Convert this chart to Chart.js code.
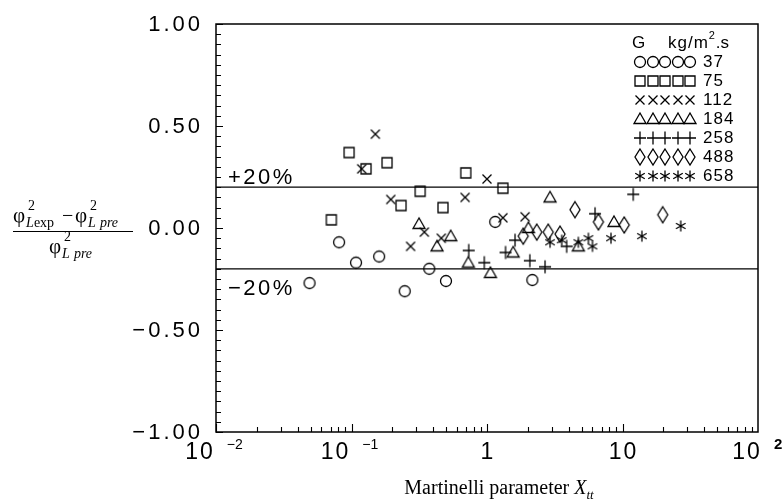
<!DOCTYPE html>
<html>
<head>
<meta charset="utf-8">
<script src="https://cdn.jsdelivr.net/npm/chart.js@4"></script>
<style>
  html, body { margin: 0; padding: 0; background: #fff; }
  canvas { display: block; }
</style>
</head>
<body>
<canvas id="chart" width="784" height="502"></canvas>
<script>
// mass flux G (kg/m2.s) and the measured points for each one
const massFlux = ["37", "75", "112", "184", "258", "488", "658"];

const g37X = [0.049, 0.081, 0.108, 0.160, 0.247, 0.375, 0.498, 1.15, 2.16];
const g37Y = [-0.27, -0.07, -0.17, -0.14, -0.31, -0.20, -0.26, 0.03, -0.255];

const g75X = [0.071, 0.096, 0.128, 0.183, 0.232, 0.321, 0.473, 0.697, 1.31];
const g75Y = [0.04, 0.37, 0.29, 0.32, 0.11, 0.18, 0.10, 0.27, 0.195];

const g112X = [0.119, 0.150, 0.195, 0.273, 0.345, 0.46, 0.689, 1.0, 1.31, 1.91];
const g112Y = [0.29, 0.46, 0.14, -0.09, -0.02, -0.05, 0.15, 0.24, 0.05, 0.055];

const g184X = [0.315, 0.428, 0.54, 0.728, 1.06, 1.56, 2.02, 2.92, 4.72, 8.65];
const g184Y = [0.02, -0.09, -0.04, -0.17, -0.22, -0.12, 0.0, 0.15, -0.09, 0.03];

const g258X = [0.733, 0.955, 1.37, 1.61, 2.07, 2.68, 3.87, 6.27, 12.0];
const g258Y = [-0.11, -0.17, -0.12, -0.06, -0.16, -0.19, -0.09, 0.07, 0.165];

const g488X = [1.85, 2.33, 2.83, 3.46, 4.46, 6.64, 10.3, 19.8];
const g488Y = [-0.04, -0.02, -0.02, -0.03, 0.09, 0.03, 0.015, 0.065];

const g658X = [2.92, 3.56, 4.72, 5.6, 6.0, 8.22, 13.9, 26.9];
const g658Y = [-0.07, -0.06, -0.07, -0.05, -0.09, -0.05, -0.04, 0.01];

const markerKinds = ["circle", "square", "x", "triangle", "plus", "diamond", "star"];

// +/-20% band
const bandLimits = [0.2, -0.2];
const bandLabels = ["+20%", "\u221220%"];

const yTicks = [-1, -0.5, 0, 0.5, 1];
const yTickLabels = ["\u22121.00", "\u22120.50", "0.00", "0.50", "1.00"];
const xTicks = [0.01, 0.1, 1, 10, 100];
const xTickBase = ["10", "10", "1", "10", "10"];
const xTickExp = ["\u22122", "\u22121", "", "", "2"];

const SANS = '"Liberation Sans", Arial, sans-serif';
const SERIF = '"Liberation Serif", "Times New Roman", serif';

function zip(xs, ys) {
  return xs.map((x, i) => ({ x: x, y: ys[i] }));
}

// small stroked symbols used as point styles
function marker(kind) {
  const c = document.createElement("canvas");
  c.width = 22;
  c.height = 22;
  const g = c.getContext("2d");
  g.strokeStyle = "#000";
  g.lineWidth = 1.3;
  g.translate(11, 11);
  g.beginPath();
  switch (kind) {
    case "circle":
      g.arc(0, 0, 5.5, 0, Math.PI * 2);
      break;
    case "square":
      g.rect(-5, -5, 10, 10);
      break;
    case "x":
      g.moveTo(-4.5, -4.5); g.lineTo(4.5, 4.5);
      g.moveTo(4.5, -4.5); g.lineTo(-4.5, 4.5);
      break;
    case "triangle":
      g.moveTo(0, -6); g.lineTo(6, 4.5); g.lineTo(-6, 4.5); g.closePath();
      break;
    case "plus":
      g.moveTo(-6, 0); g.lineTo(6, 0);
      g.moveTo(0, -6.5); g.lineTo(0, 6.5);
      break;
    case "diamond":
      g.moveTo(0, -8); g.lineTo(5, 0); g.lineTo(0, 8); g.lineTo(-5, 0); g.closePath();
      break;
    case "star":
      [90, 30, -30].forEach((deg) => {
        const a = deg * Math.PI / 180;
        g.moveTo(-5.5 * Math.cos(a), -5.5 * Math.sin(a));
        g.lineTo(5.5 * Math.cos(a), 5.5 * Math.sin(a));
      });
      break;
  }
  g.stroke();
  return c;
}

const markerImgs = markerKinds.map(marker);

const seriesData = [
  zip(g37X, g37Y), zip(g75X, g75Y), zip(g112X, g112Y), zip(g184X, g184Y),
  zip(g258X, g258Y), zip(g488X, g488Y), zip(g658X, g658Y)
];

const datasets = seriesData.map((pts, i) => ({
  label: "G = " + massFlux[i],
  data: pts,
  pointStyle: markerImgs[i],
  pointRadius: 6,
  showLine: false
}));

bandLimits.forEach((v) => {
  datasets.push({
    label: "band " + v,
    data: [{ x: 0.01, y: v }, { x: 100, y: v }],
    showLine: true,
    borderColor: "#000",
    borderWidth: 1.2,
    pointRadius: 0
  });
});

function spacedText(ctx, text, x, y, align, spacing) {
  ctx.letterSpacing = spacing + "px";
  const w = ctx.measureText(text).width - spacing;
  let sx = x;
  if (align === "right") sx = x - w;
  else if (align === "center") sx = x - w / 2;
  ctx.textAlign = "left";
  ctx.fillText(text, sx, y);
  ctx.letterSpacing = "0px";
  return w;
}

const decorations = {
  id: "decorations",
  afterDraw(chart) {
    const ctx = chart.ctx;
    const area = chart.chartArea;
    const xs = chart.scales.x;
    const ys = chart.scales.y;
    ctx.save();
    ctx.fillStyle = "#000";
    ctx.strokeStyle = "#000";

    // frame
    ctx.lineWidth = 1.5;
    ctx.strokeRect(area.left, area.top, area.right - area.left, area.bottom - area.top);

    // inward ticks on the left axis
    ctx.lineWidth = 1.1;
    ctx.beginPath();
    for (let k = -20; k <= 20; k++) {
      const py = Math.round(ys.getPixelForValue(k / 20)) + 0.5;
      const len = k % 10 === 0 ? 7 : 5;
      ctx.moveTo(area.left, py);
      ctx.lineTo(area.left + len, py);
    }
    // inward log ticks on the bottom axis
    for (let d = -2; d <= 1; d++) {
      for (let m = 1; m <= 9; m++) {
        const px = Math.round(xs.getPixelForValue(m * Math.pow(10, d))) + 0.5;
        const len = m === 1 ? 8 : 5;
        ctx.moveTo(px, area.bottom);
        ctx.lineTo(px, area.bottom - len);
      }
    }
    ctx.stroke();

    // y tick labels
    ctx.font = "22px " + SANS;
    ctx.textBaseline = "middle";
    yTicks.forEach((v, i) => {
      spacedText(ctx, yTickLabels[i], area.left - 16, ys.getPixelForValue(v) + 1, "right", 3);
    });

    // x tick labels: base with raised exponent
    ctx.textBaseline = "alphabetic";
    xTicks.forEach((v, i) => {
      const px = xs.getPixelForValue(v);
      ctx.font = "23px " + SANS;
      ctx.letterSpacing = "2px";
      const bw = ctx.measureText(xTickBase[i]).width - 2;
      ctx.font = "14px " + SANS;
      const ew = xTickExp[i] ? ctx.measureText(xTickExp[i]).width : 0;
      const gap = xTickExp[i] ? 14 : 0;
      const start = px - (bw + gap + ew) / 2;
      ctx.font = "23px " + SANS;
      spacedText(ctx, xTickBase[i], start, 459, "left", 2);
      if (xTickExp[i]) {
        ctx.font = (i === 4 ? "bold 15px " : "14px ") + SANS;
        ctx.fillText(xTickExp[i], start + bw + gap, 449);
      }
    });

    // band labels
    ctx.font = "22px " + SANS;
    spacedText(ctx, bandLabels[0], area.left + 12, ys.getPixelForValue(bandLimits[0]) - 3, "left", 2.5);
    spacedText(ctx, bandLabels[1], area.left + 12, ys.getPixelForValue(bandLimits[1]) + 26, "left", 2.5);

    // legend
    const lx = 640;
    const rowStep = 19;
    const row0 = 62;
    ctx.font = "17px " + SANS;
    ctx.textBaseline = "middle";
    ctx.fillText("G", 632, row0 - rowStep);
    spacedText(ctx, "kg/m", 668, row0 - rowStep, "left", 1);
    const kw = (function () { ctx.letterSpacing = "1px"; const w = ctx.measureText("kg/m").width; ctx.letterSpacing = "0px"; return w; })();
    ctx.font = "11px " + SANS;
    ctx.fillText("2", 668 + kw, row0 - rowStep - 7);
    ctx.font = "17px " + SANS;
    ctx.fillText(".s", 668 + kw + 7, row0 - rowStep);
    massFlux.forEach((g, i) => {
      const ry = row0 + i * rowStep;
      for (let j = 0; j < 5; j++) {
        ctx.drawImage(markerImgs[i], Math.round(lx + j * 12.5) - 11, ry - 11);
      }
      spacedText(ctx, g, 703, ry, "left", 1);
    });

    // x axis title
    ctx.textBaseline = "alphabetic";
    ctx.font = "20px " + SERIF;
    const t1 = "Martinelli parameter ";
    const w1 = ctx.measureText(t1).width;
    ctx.font = "italic 20px " + SERIF;
    const w2 = ctx.measureText("X").width;
    ctx.font = "italic 13px " + SERIF;
    const w3 = ctx.measureText("tt").width;
    const tx = 499 - (w1 + w2 + w3) / 2;
    ctx.font = "20px " + SERIF;
    ctx.fillText(t1, tx, 494);
    ctx.font = "italic 20px " + SERIF;
    ctx.fillText("X", tx + w1, 494);
    ctx.font = "italic 13px " + SERIF;
    ctx.fillText("tt", tx + w1 + w2, 499);

    // y axis title: (phi2_Lexp - phi2_Lpre) / phi2_Lpre
    const phi = "\u03C6";
    function phiTerm(x, base, subUpright) {
      ctx.font = "21px " + SERIF;
      ctx.fillText(phi, x, base);
      const pw = ctx.measureText(phi).width;
      ctx.font = "14px " + SERIF;
      ctx.fillText("2", x + pw + 3, base - 12);
      ctx.font = "italic 14px " + SERIF;
      ctx.fillText("L", x + pw + 1, base + 5);
      const lw = ctx.measureText("L").width;
      if (subUpright) {
        ctx.font = "14px " + SERIF;
        ctx.fillText("exp", x + pw + 1 + lw, base + 5);
        return pw + 1 + lw + ctx.measureText("exp").width;
      }
      ctx.font = "italic 14px " + SERIF;
      ctx.fillText("pre", x + pw + 1 + lw + 4, base + 5);
      return pw + 1 + lw + 4 + ctx.measureText("pre").width;
    }
    phiTerm(13, 222, true);
    ctx.font = "20px " + SERIF;
    ctx.fillText("\u2212", 62, 222);
    phiTerm(75, 222, false);
    ctx.lineWidth = 1;
    ctx.beginPath();
    ctx.moveTo(13, 231.5);
    ctx.lineTo(133, 231.5);
    ctx.stroke();
    phiTerm(49, 253, false);

    ctx.restore();
  }
};

new Chart(document.getElementById("chart"), {
  type: "scatter",
  data: { datasets: datasets },
  options: {
    responsive: false,
    animation: false,
    devicePixelRatio: 1,
    layout: { padding: { top: 24, right: 26, left: 0, bottom: 0 } },
    plugins: { legend: { display: false }, tooltip: { enabled: false } },
    scales: {
      x: {
        type: "logarithmic",
        min: 0.01,
        max: 100,
        grid: { display: false },
        border: { display: false },
        ticks: { display: false },
        afterFit: (scale) => { scale.height = 70; }
      },
      y: {
        type: "linear",
        min: -1,
        max: 1,
        grid: { display: false },
        border: { display: false },
        ticks: { display: false },
        afterFit: (scale) => { scale.width = 216; }
      }
    }
  },
  plugins: [decorations]
});
</script>
</body>
</html>
